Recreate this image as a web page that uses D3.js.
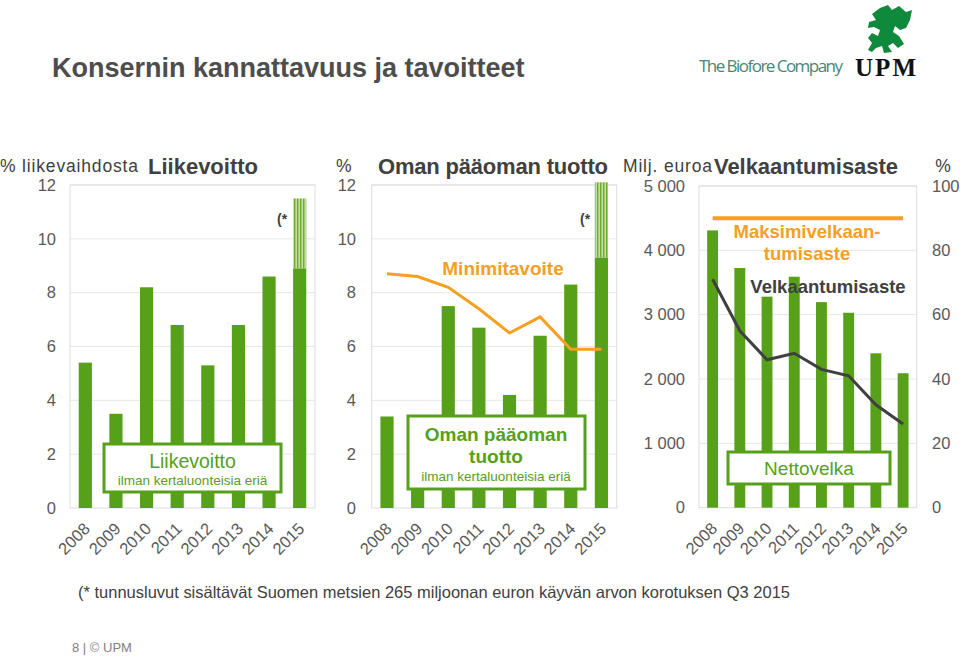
<!DOCTYPE html>
<html><head><meta charset="utf-8">
<script src="https://cdn.jsdelivr.net/npm/d3@7"></script>
<style>
body{margin:0;background:#fff;}
svg{display:block;font-family:"Liberation Sans",Arial,sans-serif;}
</style></head>
<body>
<svg id="c" width="960" height="657"></svg>
<script>
const years = ["2008","2009","2010","2011","2012","2013","2014","2015"];
// Liikevoitto, % liikevaihdosta
const opProfit = [5.4, 3.5, 8.2, 6.8, 5.3, 6.8, 8.6, 8.9];
const opProfitIncl2015 = 11.5;
// Oman pääoman tuotto, %
const roe = [3.4, 2.6, 7.5, 6.7, 4.2, 6.4, 8.3, 9.3];
const roeIncl2015 = 12.1;
const roeTarget = [8.7, 8.6, 8.2, 7.4, 6.5, 7.1, 5.9, 5.9];
// Nettovelka, milj. euroa
const netDebt = [4310, 3725, 3280, 3590, 3195, 3030, 2400, 2090];
// Velkaantumisaste, %
const gearing = [71, 55, 46, 48, 43, 41, 32, 26];
const maxGearing = 90;
const ticksPct = [0, 2, 4, 6, 8, 10, 12];
const ticksDebt = [0, 1000, 2000, 3000, 4000, 5000];
const ticksGear = [0, 20, 40, 60, 80, 100];

const svg = d3.select("#c");
const GREEN = "#56a01a", ORANGE = "#f5a021", DARK = "#404040", TICK = "#595959";

const defs = svg.append("defs");
const pat = defs.append("pattern").attr("id","hatch").attr("patternUnits","userSpaceOnUse")
  .attr("width",3).attr("height",10);
pat.append("rect").attr("width",3).attr("height",10).attr("fill","#c2dd9c");
pat.append("rect").attr("width",1.4).attr("height",10).attr("fill","#6fae33");

// Main title
svg.append("text").attr("x",52).attr("y",77).attr("font-size",27).attr("font-weight","bold")
  .attr("fill","#4d4d4d").text("Konsernin kannattavuus ja tavoitteet");

// Logo
svg.append("text").attr("x",699).attr("y",72).attr("font-size",17).attr("fill","#4a8576")
  .attr("font-family","'Open Sans',sans-serif").attr("textLength",144).text("The Biofore Company");
svg.append("text").attr("x",855).attr("y",76).attr("font-size",25).attr("font-weight","bold")
  .attr("font-family","'Liberation Serif',serif").attr("fill","#111").attr("textLength",61).text("UPM");
svg.append("path").attr("fill","#0f8a3c")
  .attr("d","M880,8 L888,5 L892,10 L899,6 L906,12 L912,10 L910,20 L906,28 L900,30 L895,26 L893,32 L899,36 L904,44 L898,48 L893,43 L888,46 L892,52 L884,53 L882,46 L876,48 L872,52 L868,50 L872,43 L868,38 L872,33 L878,36 L880,30 L874,27 L868,28 L869,22 L876,20 L872,14 Z");

const yPct = d3.scaleLinear().domain([0,12]).range([508,185]);

function panel(x0, x1, y, ticks, pad) {
  const g = svg.append("g");
  const x = d3.scaleBand().domain(years).range([x0,x1]).paddingInner(pad).paddingOuter(pad/2);
  g.selectAll("line.grid").data(ticks.slice(1)).enter().append("line")
    .attr("x1",x0).attr("x2",x1).attr("y1",d=>y(d)).attr("y2",d=>y(d))
    .attr("stroke","#e6e6e6").attr("stroke-width",1);
  g.append("rect").attr("x",x0).attr("y",y(ticks[ticks.length-1])).attr("width",x1-x0)
    .attr("height",y(0)-y(ticks[ticks.length-1])).attr("fill","none").attr("stroke","#d9dde3");
  g.selectAll("text.xl").data(years).enter().append("text")
    .attr("transform",d=>`translate(${x(d)+x.bandwidth()/2-3},${y(0)+13}) rotate(-45)`)
    .attr("text-anchor","end").attr("dy","0.75em").attr("font-size",16.5).attr("fill",TICK).text(d=>d);
  return {g, x};
}

function leftAxis(x, y, ticks, fmt) {
  const ax = svg.append("g").attr("transform",`translate(${x},0)`)
    .call(d3.axisLeft(y).tickValues(ticks).tickSize(0).tickPadding(0).tickFormat(fmt||d3.format("d")));
  ax.select(".domain").remove();
  ax.selectAll("text").attr("font-size",16.5).attr("fill",TICK).attr("font-family","'Liberation Sans',Arial,sans-serif");
}

// ---------- Panel 1 ----------
const p1 = panel(70, 315, yPct, ticksPct, 0.57);
leftAxis(56, yPct, ticksPct);
p1.g.append("rect").attr("x",p1.x("2015")).attr("width",p1.x.bandwidth())
  .attr("y",yPct(opProfitIncl2015)).attr("height",yPct(opProfit[7])-yPct(opProfitIncl2015)).attr("fill","url(#hatch)");
p1.g.selectAll("rect.bar").data(opProfit).enter().append("rect")
  .attr("x",(d,i)=>p1.x(years[i])).attr("width",p1.x.bandwidth())
  .attr("y",d=>yPct(d)).attr("height",d=>yPct(0)-yPct(d)).attr("fill",GREEN);
svg.append("text").attr("x",277).attr("y",224).attr("font-size",14).attr("font-weight","bold").attr("fill",DARK).text("(*");
svg.append("rect").attr("x",104).attr("y",444).attr("width",177).attr("height",48)
  .attr("fill","#fff").attr("stroke",GREEN).attr("stroke-width",3);
svg.append("text").attr("x",192.5).attr("y",468).attr("text-anchor","middle").attr("font-size",19.5).attr("fill",GREEN).text("Liikevoitto");
svg.append("text").attr("x",192.5).attr("y",485).attr("text-anchor","middle").attr("font-size",13.5).attr("fill",GREEN).text("ilman kertaluonteisia eriä");
svg.append("text").attr("x",0).attr("y",172).attr("font-size",17.5).attr("fill",DARK).attr("textLength",138).text("% liikevaihdosta");
svg.append("text").attr("x",148).attr("y",174).attr("font-size",22).attr("font-weight","bold").attr("fill",DARK).text("Liikevoitto");

// ---------- Panel 2 ----------
const p2 = panel(371.7, 616.7, yPct, ticksPct, 0.57);
leftAxis(356, yPct, ticksPct);
p2.g.append("rect").attr("x",p2.x("2015")).attr("width",p2.x.bandwidth())
  .attr("y",yPct(roeIncl2015)).attr("height",yPct(roe[7])-yPct(roeIncl2015)).attr("fill","url(#hatch)");
p2.g.selectAll("rect.bar").data(roe).enter().append("rect")
  .attr("x",(d,i)=>p2.x(years[i])).attr("width",p2.x.bandwidth())
  .attr("y",d=>yPct(d)).attr("height",d=>yPct(0)-yPct(d)).attr("fill",GREEN);
p2.g.append("path").datum(roeTarget)
  .attr("d",d3.line().x((d,i)=>p2.x(years[i])+p2.x.bandwidth()/2).y(d=>yPct(d)))
  .attr("fill","none").attr("stroke",ORANGE).attr("stroke-width",3);
svg.append("text").attr("x",503).attr("y",275).attr("text-anchor","middle").attr("font-size",19)
  .attr("font-weight","bold").attr("fill",ORANGE).text("Minimitavoite");
svg.append("text").attr("x",580).attr("y",224).attr("font-size",14).attr("font-weight","bold").attr("fill",DARK).text("(*");
svg.append("rect").attr("x",408).attr("y",416).attr("width",177).attr("height",73)
  .attr("fill","#fff").attr("stroke",GREEN).attr("stroke-width",3);
svg.append("text").attr("x",496).attr("y",441).attr("text-anchor","middle").attr("font-size",19).attr("font-weight","bold").attr("fill",GREEN).text("Oman pääoman");
svg.append("text").attr("x",496).attr("y",463).attr("text-anchor","middle").attr("font-size",19).attr("font-weight","bold").attr("fill",GREEN).text("tuotto");
svg.append("text").attr("x",496).attr("y",481).attr("text-anchor","middle").attr("font-size",13.5).attr("fill",GREEN).text("ilman kertaluonteisia eriä");
svg.append("text").attr("x",336).attr("y",172).attr("font-size",17.5).attr("fill",DARK).text("%");
svg.append("text").attr("x",378).attr("y",174).attr("font-size",22).attr("font-weight","bold").attr("fill",DARK).attr("textLength",230).text("Oman pääoman tuotto");

// ---------- Panel 3 ----------
const yDebt = d3.scaleLinear().domain([0,5000]).range([507.7,186]);
const yGear = d3.scaleLinear().domain([0,100]).range([507.7,186]);
const p3 = panel(699, 916.7, yDebt, ticksDebt, 0.6);
leftAxis(685, yDebt, ticksDebt, d=>d3.format(",")(d).replace(/,/g," "));
const ra = svg.append("g").attr("transform","translate(932,0)")
  .call(d3.axisRight(yGear).tickValues(ticksGear).tickSize(0).tickPadding(0));
ra.select(".domain").remove();
ra.selectAll("text").attr("font-size",16.5).attr("fill",TICK).attr("font-family","'Liberation Sans',Arial,sans-serif");
p3.g.selectAll("rect.bar").data(netDebt).enter().append("rect")
  .attr("x",(d,i)=>p3.x(years[i])).attr("width",p3.x.bandwidth())
  .attr("y",d=>yDebt(d)).attr("height",d=>yDebt(0)-yDebt(d)).attr("fill",GREEN);
const cx3 = y=>p3.x(y)+p3.x.bandwidth()/2;
p3.g.append("line").attr("x1",cx3("2008")).attr("x2",cx3("2015"))
  .attr("y1",yGear(maxGearing)).attr("y2",yGear(maxGearing)).attr("stroke",ORANGE).attr("stroke-width",4);
p3.g.append("path").datum(gearing)
  .attr("d",d3.line().x((d,i)=>cx3(years[i])).y(d=>yGear(d)))
  .attr("fill","none").attr("stroke","#404040").attr("stroke-width",3);
svg.append("text").attr("x",807).attr("y",238).attr("text-anchor","middle").attr("font-size",18.5).attr("font-weight","bold").attr("fill",ORANGE).text("Maksimivelkaan-");
svg.append("text").attr("x",807).attr("y",260).attr("text-anchor","middle").attr("font-size",18.5).attr("font-weight","bold").attr("fill",ORANGE).text("tumisaste");
svg.append("text").attr("x",828).attr("y",293).attr("text-anchor","middle").attr("font-size",18.5).attr("font-weight","bold").attr("fill","#404040").text("Velkaantumisaste");
svg.append("rect").attr("x",728).attr("y",452).attr("width",162).attr("height",32)
  .attr("fill","#fff").attr("stroke",GREEN).attr("stroke-width",3);
svg.append("text").attr("x",809).attr("y",475).attr("text-anchor","middle").attr("font-size",19).attr("fill",GREEN).text("Nettovelka");
svg.append("text").attr("x",623).attr("y",172).attr("font-size",17.5).attr("fill",DARK).attr("textLength",89).text("Milj. euroa");
svg.append("text").attr("x",714).attr("y",174).attr("font-size",22).attr("font-weight","bold").attr("fill",DARK).attr("textLength",184).text("Velkaantumisaste");
svg.append("text").attr("x",943).attr("y",172).attr("text-anchor","middle").attr("font-size",17.5).attr("fill",DARK).text("%");

// Footer
svg.append("text").attr("x",78).attr("y",598).attr("font-size",16.5).attr("fill",DARK).attr("textLength",712)
  .attr("lengthAdjust","spacingAndGlyphs")
  .text("(* tunnusluvut sisältävät Suomen metsien 265 miljoonan euron käyvän arvon korotuksen Q3 2015");
svg.append("text").attr("x",72).attr("y",652).attr("font-size",13).attr("fill","#7f7f7f").text("8 | © UPM");
</script>
</body></html>
